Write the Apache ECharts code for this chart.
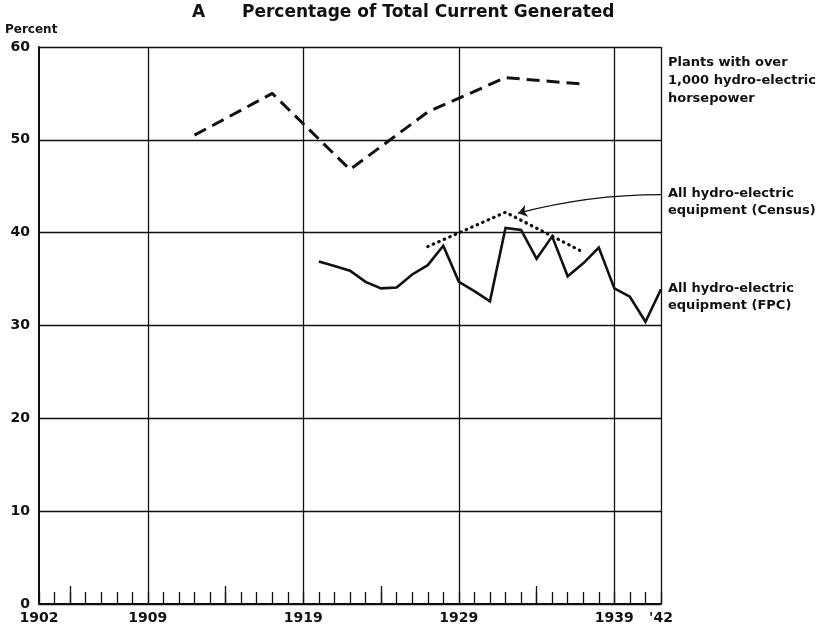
<!DOCTYPE html>
<html lang="en">
<head>
    <meta charset="UTF-8">
    <title>Percentage of Total Current Generated</title>
    <script src="https://cdn.jsdelivr.net/npm/echarts@6.0.0/dist/echarts.min.js"></script>
</head>
<body style="margin:0">
<div id="main" style="width:830px;height:630px;"></div>
<script type="text/javascript">
    // data
    var plantsYears = [1912, 1917, 1922, 1927, 1932, 1937];
    var plantsValues = [50.5, 55.0, 46.8, 53.0, 56.7, 56.0];

    var censusYears = [1927, 1932, 1937];
    var censusValues = [38.5, 42.2, 37.9];

    var fpcYears = [1920, 1921, 1922, 1923, 1924, 1925, 1926, 1927, 1928, 1929, 1930,
        1931, 1932, 1933, 1934, 1935, 1936, 1937, 1938, 1939, 1940, 1941, 1942];
    var fpcValues = [36.9, 36.4, 35.9, 34.7, 34.0, 34.1, 35.5, 36.5, 38.6, 34.7, 33.7,
        32.6, 40.5, 40.3, 37.2, 39.6, 35.3, 36.7, 38.4, 34.0, 33.1, 30.4, 33.9];

    var yearLabels = [1902, 1909, 1919, 1929, 1939, 1942];
    var gridYears = [1909, 1919, 1929, 1939, 1942];
    var longTickYears = [1904, 1914, 1924, 1934];

    // pointer from the Census label to the census peak
    var arrowFrom = [1942, 44.1];
    var arrowTo = [1932.8, 42.1];

    function pairs(xs, ys) {
        var out = [];
        for (var i = 0; i < xs.length; i++) out.push([xs[i], ys[i]]);
        return out;
    }

    var font = 'DejaVu Sans';
    var myChart = echarts.init(document.getElementById('main'));

    var option = {
        backgroundColor: '#fff',
        animation: false,
        grid: {left: 39, right: 169, top: 47, bottom: 26},
        graphic: [
            {type: 'text', left: 192, top: 4, style: {text: 'A', font: 'bold 17px ' + font, fill: '#111'}},
            {type: 'text', left: 242, top: 4, style: {text: 'Percentage of Total Current Generated', font: 'bold 17px ' + font, fill: '#111'}},
            {type: 'text', left: 5, top: 24, style: {text: 'Percent', font: 'bold 12px ' + font, fill: '#111'}},
            {type: 'text', left: 668, top: 54, style: {text: 'Plants with over\n1,000 hydro-electric\nhorsepower', font: 'bold 13px ' + font, lineHeight: 18, fill: '#111'}},
            {type: 'text', left: 668, top: 185, style: {text: 'All hydro-electric\nequipment (Census)', font: 'bold 13px ' + font, lineHeight: 17, fill: '#111'}},
            {type: 'text', left: 668, top: 280, style: {text: 'All hydro-electric\nequipment (FPC)', font: 'bold 13px ' + font, lineHeight: 17, fill: '#111'}}
        ],
        xAxis: [{
            type: 'value',
            min: 1902,
            max: 1942,
            interval: 1,
            axisLine: {lineStyle: {color: '#111', width: 2}},
            axisTick: {inside: true, length: 12, lineStyle: {color: '#111', width: 1.3}},
            axisLabel: {
                customValues: yearLabels,
                color: '#111',
                fontFamily: font,
                fontWeight: 'bold',
                fontSize: 14,
                margin: 7,
                formatter: function (v) { return v === 1942 ? "'42" : String(v); }
            },
            splitLine: {show: false}
        }, {
            type: 'value',
            min: 1902,
            max: 1942,
            position: 'bottom',
            axisLine: {show: false},
            axisTick: {customValues: longTickYears, inside: true, length: 18, lineStyle: {color: '#111', width: 1.3}},
            axisLabel: {show: false},
            splitLine: {show: false}
        }],
        yAxis: {
            type: 'value',
            min: 0,
            max: 60,
            interval: 10,
            axisLine: {show: true, lineStyle: {color: '#111', width: 2}},
            axisTick: {show: false},
            axisLabel: {color: '#111', fontFamily: font, fontWeight: 'bold', fontSize: 14, margin: 9},
            splitLine: {lineStyle: {color: '#111', width: 1.3}}
        },
        series: [{
            name: 'Plants with over 1,000 hydro-electric horsepower',
            type: 'line',
            data: pairs(plantsYears, plantsValues),
            symbol: 'none',
            lineStyle: {color: '#111', width: 3, type: [13, 7]},
            markLine: {
                silent: true,
                symbol: 'none',
                label: {show: false},
                lineStyle: {color: '#111', width: 1.3, type: 'solid'},
                data: gridYears.map(function (y) { return {xAxis: y}; })
            }
        }, {
            name: 'All hydro-electric equipment (Census)',
            type: 'line',
            data: pairs(censusYears, censusValues),
            symbol: 'none',
            lineStyle: {color: '#111', width: 3.2, type: [0.5, 5.5], cap: 'round'}
        }, {
            name: 'All hydro-electric equipment (FPC)',
            type: 'line',
            data: pairs(fpcYears, fpcValues),
            symbol: 'none',
            lineStyle: {color: '#111', width: 2.6, join: 'miter'}
        }, {
            name: 'pointer',
            type: 'lines',
            coordinateSystem: 'cartesian2d',
            silent: true,
            symbol: ['none', 'arrow'],
            symbolSize: 9,
            lineStyle: {color: '#111', width: 1.2, opacity: 1, curveness: -0.065},
            data: [{coords: [arrowFrom, arrowTo]}]
        }]
    };

    myChart.setOption(option);
</script>
</body>
</html>
